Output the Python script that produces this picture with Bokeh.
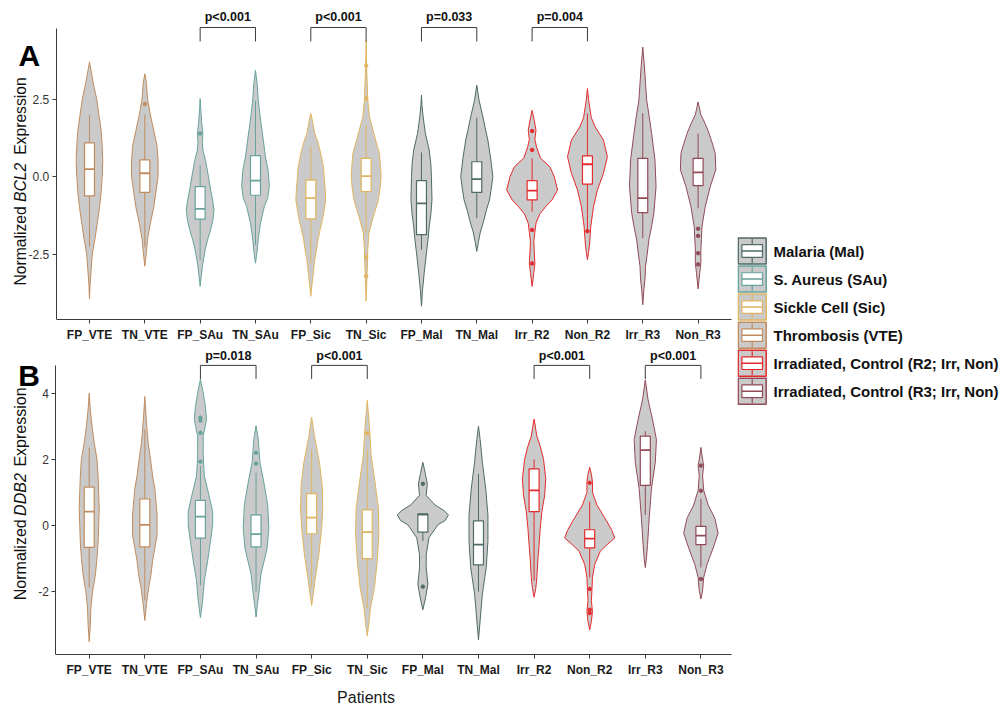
import math
from bokeh.plotting import figure
from bokeh.models import Range1d, FixedTicker, PrintfTickFormatter, LinearAxis
from bokeh.layouts import row, column
from bokeh.embed import file_html
from bokeh.resources import INLINE
from bokeh.core.properties import value

# ---------------- data ----------------
CATEGORIES = ["FP_VTE", "TN_VTE", "FP_SAu", "TN_SAu", "FP_Sic", "TN_Sic",
              "FP_Mal", "TN_Mal", "Irr_R2", "Non_R2", "Irr_R3", "Non_R3"]
GROUP_OF = ["VTE", "VTE", "SAu", "SAu", "Sic", "Sic", "Mal", "Mal", "R2", "R2", "R3", "R3"]
LEGEND_KEYS = ["Mal", "SAu", "Sic", "VTE", "R2", "R3"]
LEGEND_LABELS = ["Malaria (Mal)", "S. Aureus (SAu)", "Sickle Cell (Sic)", "Thrombosis (VTE)",
                 "Irradiated, Control (R2; Irr, Non)", "Irradiated, Control (R3; Irr, Non)"]
COLORS = {"Mal": "#4F6B67", "SAu": "#67A29D", "Sic": "#E0B560",
          "VTE": "#C08C5E", "R2": "#E42A2D", "R3": "#924A58"}

# violin profiles: (expression value, half width in category units), top -> bottom
# Panel A (BCL2)
A_FP_VTE = [(3.70, 0), (3.40, 0.03), (3.00, 0.07), (2.50, 0.13), (2.00, 0.17), (1.50, 0.21), (1.00, 0.23),
            (0.50, 0.24), (0.00, 0.23), (-0.50, 0.21), (-1.00, 0.18), (-1.50, 0.14), (-2.00, 0.10),
            (-2.50, 0.05), (-3.00, 0.03), (-3.50, 0.01), (-3.94, 0)]
A_TN_VTE = [(3.32, 0), (3.00, 0.03), (2.50, 0.05), (2.00, 0.10), (1.50, 0.16), (1.00, 0.22), (0.50, 0.24),
            (0.00, 0.24), (-0.50, 0.20), (-1.00, 0.16), (-1.50, 0.10), (-2.00, 0.05), (-2.40, 0.03), (-2.89, 0)]
A_FP_SAu = [(2.52, 0), (2.20, 0.01), (1.70, 0.03), (1.40, 0.05), (1.10, 0.04), (0.86, 0.05), (0.50, 0.10),
            (0.30, 0.12), (0.00, 0.15), (-0.43, 0.19), (-0.80, 0.23), (-1.07, 0.25), (-1.40, 0.23),
            (-1.71, 0.19), (-2.00, 0.14), (-2.36, 0.09), (-2.90, 0.04), (-3.20, 0.02), (-3.54, 0)]
A_TN_SAu = [(3.43, 0), (3.00, 0.03), (2.47, 0.05), (2.00, 0.08), (1.72, 0.10), (1.20, 0.14), (0.64, 0.18),
            (0.20, 0.23), (-0.32, 0.25), (-0.70, 0.22), (-0.96, 0.16), (-1.50, 0.09), (-2.00, 0.05),
            (-2.40, 0.03), (-2.79, 0)]
A_FP_Sic = [(2.04, 0), (1.80, 0.03), (1.40, 0.07), (1.10, 0.13), (0.75, 0.18), (0.30, 0.23), (0.00, 0.24),
            (-0.40, 0.26), (-0.75, 0.27), (-1.10, 0.24), (-1.39, 0.21), (-1.70, 0.17), (-2.03, 0.13),
            (-2.40, 0.10), (-2.68, 0.07), (-3.20, 0.04), (-3.50, 0.02), (-3.86, 0)]
A_TN_Sic = [(4.39, 0), (3.50, 0.01), (2.47, 0.03), (1.93, 0.06), (1.60, 0.11), (1.39, 0.14), (1.00, 0.20),
            (0.75, 0.24), (0.30, 0.26), (0.00, 0.27), (-0.40, 0.25), (-0.75, 0.22), (-1.00, 0.18),
            (-1.29, 0.13), (-1.82, 0.05), (-2.36, 0.03), (-3.00, 0.02), (-4.02, 0)]
A_FP_Mal = [(2.63, 0), (2.30, 0.01), (1.93, 0.03), (1.40, 0.07), (0.86, 0.14), (0.40, 0.17), (0.00, 0.18),
            (-0.75, 0.19), (-1.20, 0.17), (-1.61, 0.14), (-2.00, 0.12), (-2.46, 0.09), (-3.10, 0.05),
            (-3.64, 0.02), (-4.18, 0)]
A_TN_Mal = [(2.95, 0), (2.47, 0.04), (1.93, 0.11), (1.50, 0.16), (1.18, 0.20), (0.60, 0.25), (0.00, 0.29),
            (-0.40, 0.26), (-0.75, 0.23), (-1.10, 0.17), (-1.39, 0.13), (-1.82, 0.06), (-2.10, 0.03), (-2.41, 0)]
A_Irr_R2 = [(2.14, 0), (1.80, 0.04), (1.50, 0.07), (1.20, 0.05), (0.96, 0.08), (0.60, 0.15), (0.32, 0.32),
            (0.00, 0.40), (-0.43, 0.46), (-0.75, 0.36), (-0.96, 0.25), (-1.20, 0.14), (-1.50, 0.07),
            (-1.80, 0.05), (-2.10, 0.03), (-2.45, 0.04), (-2.80, 0.05), (-3.10, 0.03), (-3.54, 0)]
A_Non_R2 = [(2.84, 0), (2.50, 0.02), (2.25, 0.04), (1.90, 0.07), (1.60, 0.14), (1.18, 0.29), (0.64, 0.36),
            (0.11, 0.29), (-0.43, 0.18), (-0.96, 0.11), (-1.61, 0.06), (-2.14, 0.04), (-2.45, 0.02), (-2.68, 0)]
A_Irr_R3 = [(4.18, 0), (3.54, 0.03), (3.00, 0.05), (2.47, 0.07), (1.90, 0.12), (1.39, 0.16), (0.54, 0.22),
            (-0.32, 0.24), (-1.18, 0.20), (-1.60, 0.16), (-2.04, 0.11), (-2.50, 0.08), (-2.89, 0.05),
            (-3.30, 0.04), (-3.64, 0.02), (-4.13, 0)]
A_Non_R3 = [(2.41, 0), (2.00, 0.05), (1.70, 0.13), (1.39, 0.20), (1.00, 0.27), (0.75, 0.31), (0.22, 0.32),
            (-0.32, 0.22), (-0.96, 0.13), (-1.61, 0.07), (-2.36, 0.05), (-2.80, 0.05), (-3.10, 0.03), (-3.62, 0)]

A_Q1 = [-0.62, -0.51, -1.37, -0.60, -1.36, -0.48, -1.87, -0.51, -0.75, -0.24, -1.16, -0.29]
A_MED = [0.24, 0.11, -1.04, -0.13, -0.69, 0.02, -0.86, -0.08, -0.45, 0.40, -0.69, 0.14]
A_Q3 = [1.09, 0.54, -0.32, 0.68, -0.11, 0.59, -0.13, 0.48, -0.13, 0.67, 0.59, 0.59]
A_WLO = [-2.25, -2.28, -2.70, -2.20, -2.79, -1.82, -2.36, -1.34, -1.13, -1.72, -1.98, -1.02]
A_WHI = [1.98, 2.00, 0.37, 2.45, 0.97, 1.65, 0.78, 1.90, 0.59, 2.04, 2.04, 1.39]
A_OUTLIERS = [[], [2.34], [1.39], [], [], [3.58, 2.52, -2.60, -3.21], [], [],
              [1.47, 0.86, -1.72, -2.80], [-1.76], [], [-1.68, -1.91, -2.47, -2.83]]
A_PAIRS = [(3, 4), (5, 6), (7, 8), (9, 10)]
A_PVALS = ["p<0.001", "p<0.001", "p=0.033", "p=0.004"]

# Panel B (DDB2)
B_FP_VTE = [(4.00, 0), (3.50, 0.02), (3.00, 0.05), (2.50, 0.09), (2.00, 0.14), (1.50, 0.16), (1.00, 0.17),
            (0.50, 0.18), (0.00, 0.17), (-0.50, 0.16), (-1.00, 0.14), (-1.50, 0.11), (-2.00, 0.06),
            (-2.50, 0.03), (-3.00, 0.02), (-3.51, 0)]
B_TN_VTE = [(3.90, 0), (3.10, 0.03), (2.50, 0.06), (1.91, 0.11), (1.50, 0.14), (1.11, 0.18), (0.32, 0.22),
            (-0.30, 0.22), (-1.07, 0.14), (-1.50, 0.11), (-1.87, 0.07), (-2.37, 0.03), (-2.87, 0)]
B_FP_SAu = [(4.42, 0), (4.10, 0.04), (3.60, 0.09), (3.20, 0.11), (2.70, 0.05), (2.11, 0.05), (1.50, 0.07),
            (1.01, 0.14), (0.42, 0.22), (0.02, 0.22), (-0.48, 0.18), (-1.07, 0.13), (-1.67, 0.07),
            (-2.27, 0.04), (-2.79, 0)]
B_TN_SAu = [(3.02, 0), (2.60, 0.04), (1.91, 0.07), (1.31, 0.14), (0.62, 0.21), (-0.08, 0.23), (-0.68, 0.20),
            (-1.47, 0.09), (-2.07, 0.05), (-2.47, 0.02), (-2.77, 0)]
B_FP_Sic = [(3.28, 0), (2.70, 0.05), (1.91, 0.14), (1.21, 0.19), (0.52, 0.20), (-0.08, 0.18), (-0.88, 0.13),
            (-1.67, 0.06), (-2.07, 0.03), (-2.42, 0)]
B_TN_Sic = [(3.78, 0), (3.00, 0.04), (2.11, 0.07), (1.31, 0.14), (0.52, 0.20), (-0.28, 0.21), (-1.07, 0.18),
            (-1.87, 0.13), (-2.47, 0.06), (-2.97, 0.03), (-3.34, 0)]
B_FP_Mal = [(1.91, 0), (1.60, 0.04), (1.26, 0.08), (0.91, 0.06), (0.62, 0.22), (0.45, 0.38), (0.32, 0.46),
            (0.15, 0.40), (0.02, 0.27), (-0.37, 0.11), (-0.88, 0.06), (-1.27, 0.06), (-1.77, 0.09),
            (-2.17, 0.05), (-2.55, 0)]
B_TN_Mal = [(3.00, 0), (2.60, 0.03), (1.91, 0.07), (1.11, 0.13), (0.32, 0.17), (-0.48, 0.17), (-1.27, 0.14),
            (-2.07, 0.07), (-2.67, 0.04), (-3.07, 0.02), (-3.46, 0)]
B_Irr_R2 = [(3.22, 0), (2.70, 0.05), (2.40, 0.11), (2.00, 0.17), (1.41, 0.21), (0.91, 0.19), (0.42, 0.14),
            (-0.10, 0.11), (-0.58, 0.09), (-1.00, 0.07), (-1.57, 0.05), (-1.90, 0.03), (-2.17, 0)]
B_Non_R2 = [(1.76, 0), (1.55, 0.03), (1.32, 0.05), (1.00, 0.05), (0.62, 0.13), (0.12, 0.31), (-0.15, 0.40),
            (-0.38, 0.45), (-0.60, 0.30), (-0.78, 0.19), (-1.18, 0.09), (-1.57, 0.05), (-1.97, 0.04),
            (-2.27, 0.03), (-2.60, 0.05), (-2.90, 0.03), (-3.16, 0)]
B_Irr_R3 = [(4.40, 0), (3.80, 0.05), (3.20, 0.13), (2.60, 0.20), (1.91, 0.18), (1.11, 0.11), (0.22, 0.07),
            (-0.58, 0.04), (-1.00, 0.02), (-1.27, 0)]
B_Non_R3 = [(2.36, 0), (2.10, 0.02), (1.81, 0.05), (1.50, 0.03), (1.06, 0.05), (0.62, 0.13), (0.22, 0.25),
            (-0.23, 0.31), (-0.68, 0.22), (-1.18, 0.11), (-1.57, 0.05), (-1.97, 0.03), (-2.22, 0)]

B_Q1 = [-0.66, -0.65, -0.38, -0.65, -0.25, -1.00, -0.20, -1.19, 0.42, -0.68, 1.21, -0.58]
B_MED = [0.42, 0.02, 0.27, -0.26, 0.24, -0.20, 0.33, -0.58, 1.06, -0.40, 2.28, -0.31]
B_Q3 = [1.16, 0.80, 0.76, 0.32, 0.96, 0.47, 0.35, 0.14, 1.71, -0.13, 2.70, -0.03]
B_WLO = [-1.87, -2.27, -1.82, -2.00, -1.87, -2.50, -0.47, -2.00, -1.67, -1.57, 0.32, -1.27]
B_WHI = [2.36, 2.90, 1.80, 1.60, 2.30, 2.30, 0.35, 1.56, 2.00, 0.72, 2.85, 0.81]
B_OUTLIERS = [[], [], [3.26, 3.17, 2.80, 1.93], [2.20, 1.87], [], [2.79], [1.26, -1.85], [],
              [], [1.29, -1.92, -2.55, -2.65], [], [1.81, 1.05, -1.62]]
B_PAIRS = [(3, 4), (5, 6), (9, 10), (11, 12)]
B_PVALS = ["p=0.018", "p<0.001", "p<0.001", "p<0.001"]

A_VIOLINS = [A_FP_VTE, A_TN_VTE, A_FP_SAu, A_TN_SAu, A_FP_Sic, A_TN_Sic,
             A_FP_Mal, A_TN_Mal, A_Irr_R2, A_Non_R2, A_Irr_R3, A_Non_R3]
B_VIOLINS = [B_FP_VTE, B_TN_VTE, B_FP_SAu, B_TN_SAu, B_FP_Sic, B_TN_Sic,
             B_FP_Mal, B_TN_Mal, B_Irr_R2, B_Non_R2, B_Irr_R3, B_Non_R3]

# ---------------- style / layout (pixels) ----------------
FONT = "Liberation Sans"
GREY_FILL = "#CACACA"
AXIS_COLOR = "#3A3A3A"
BOX_W = 0.18
X0 = 0.4                 # left end of the category axis (data)
AXIS_LEFT_PX = 55.8      # page x of the y axis line
COL_W = 737              # width of the panel column


class Geo:
    def __init__(self, ppx, right_px, top_px, frame_h, zero_px, ppy):
        self.ppx, self.ppy = ppx, ppy
        self.top_px, self.frame_h = top_px, frame_h
        self.x_start = X0 - AXIS_LEFT_PX / ppx
        self.x_end = X0 + (right_px - AXIS_LEFT_PX) / ppx
        self.y_end = (zero_px - top_px) / ppy
        self.y_start = self.y_end - frame_h / ppy
        self.right_px = right_px

    def x(self, page_x):
        return X0 + (page_x - AXIS_LEFT_PX) / self.ppx

    def y(self, page_y):
        return self.y_end - (page_y - self.top_px) / self.ppy


GA = Geo(ppx=675 / 12.2, right_px=731, top_px=0, frame_h=320, zero_px=176.7, ppy=31.1)
GB = Geo(ppx=684 / 12.2, right_px=737, top_px=344, frame_h=314, zero_px=527.3, ppy=33.5)


def make_panel(g, fig_h, bottom, violins, q1, med, q3, wlo, whi, outl, pairs, pvals,
               br_top, br_end, p_y, y_ticks, y_fmt, y_axis_top, xlabel=None):
    p = figure(width=COL_W, height=fig_h, output_backend="svg", toolbar_location=None,
               x_range=Range1d(g.x_start, g.x_end), y_range=Range1d(g.y_start, g.y_end),
               x_axis_type=None, y_axis_type=None,
               min_border_left=0, min_border_right=COL_W - int(round(g.right_px)),
               min_border_top=0, min_border_bottom=bottom)
    p.outline_line_color = None
    p.background_fill_color = "white"
    p.border_fill_color = "white"

    xaxis = LinearAxis(ticker=FixedTicker(ticks=list(range(1, len(CATEGORIES) + 1))),
                       major_label_overrides={i + 1: c for i, c in enumerate(CATEGORIES)},
                       bounds=(X0, g.x_end))
    xaxis.axis_line_color = AXIS_COLOR
    xaxis.major_tick_line_color = AXIS_COLOR
    xaxis.major_tick_out = 4
    xaxis.major_tick_in = 0
    xaxis.minor_tick_line_color = None
    xaxis.major_label_standoff = 4
    xaxis.major_label_text_font = FONT
    xaxis.major_label_text_font_style = "bold"
    xaxis.major_label_text_font_size = "12px"
    xaxis.major_label_text_color = "#1A1A1A"
    if xlabel:
        xaxis.axis_label = xlabel
        xaxis.axis_label_text_font = FONT
        xaxis.axis_label_text_font_style = "normal"
        xaxis.axis_label_text_font_size = "16px"
        xaxis.axis_label_text_color = "#1A1A1A"
        xaxis.axis_label_standoff = 9
    p.add_layout(xaxis, "below")

    yaxis = LinearAxis(ticker=FixedTicker(ticks=y_ticks), formatter=PrintfTickFormatter(format=y_fmt),
                       bounds=(g.y_start, y_axis_top), fixed_location=X0)
    yaxis.axis_line_color = AXIS_COLOR
    yaxis.major_tick_line_color = AXIS_COLOR
    yaxis.major_tick_out = 4
    yaxis.major_tick_in = 0
    yaxis.minor_tick_line_color = None
    yaxis.major_label_standoff = 3
    yaxis.major_label_text_font = FONT
    yaxis.major_label_text_font_size = "12px"
    yaxis.major_label_text_color = "#333333"
    p.add_layout(yaxis, "left")

    centers = [i + 1 for i in range(len(violins))]
    cols = [COLORS[gp] for gp in GROUP_OF]

    xs, ys = [], []
    for c, prof in zip(centers, violins):
        vals = [pt[0] for pt in prof]
        ws = [pt[1] for pt in prof]
        xs.append([c + w for w in ws] + [c - w for w in reversed(ws)])
        ys.append(vals + vals[::-1])
    p.patches(xs, ys, fill_color=GREY_FILL, line_color=cols, line_width=1.0)

    p.segment(x0=centers, y0=q3, x1=centers, y1=whi, line_color=cols, line_width=1.0)
    p.segment(x0=centers, y0=q1, x1=centers, y1=wlo, line_color=cols, line_width=1.0)
    p.quad(left=[c - BOX_W / 2 for c in centers], right=[c + BOX_W / 2 for c in centers],
           bottom=q1, top=q3, fill_color="white", line_color=cols, line_width=1.2)
    p.segment(x0=[c - BOX_W / 2 for c in centers], x1=[c + BOX_W / 2 for c in centers],
              y0=med, y1=med, line_color=cols, line_width=1.8)
    ox, oy, oc = [], [], []
    for c, lst, col in zip(centers, outl, cols):
        for v in lst:
            ox.append(c)
            oy.append(v)
            oc.append(col)
    p.scatter(ox, oy, size=3.5, color=oc)

    bxs = [[a, a, b, b] for a, b in pairs]
    bys = [[br_end, br_top, br_top, br_end] for _ in pairs]
    p.multi_line(bxs, bys, line_color="#3A3A3A", line_width=1.0)
    p.text(x=[(a + b) / 2 for a, b in pairs], y=[p_y] * len(pairs), text=pvals,
           text_font=value(FONT), text_font_style="bold", text_font_size="12.5px",
           text_align="center", text_baseline="middle", text_color="#111111")
    return p


def add_titles(p, g, letter, letter_base_px, gene, font_px, bottom_px, gene_center_px, top_px):
    p.text(x=[g.x(18)], y=[g.y(letter_base_px)], text=[letter], text_font=value(FONT),
           text_font_style="bold", text_font_size="30px", text_color="black",
           text_align="left", text_baseline="alphabetic")
    tx = g.x(20)
    common = dict(angle=math.pi / 2, text_font=value(FONT), text_font_size=f"{font_px}px",
                  text_color="#111111", text_baseline="middle")
    p.text(x=[tx], y=[g.y(bottom_px)], text=["Normalized"], text_align="left", **common)
    p.text(x=[tx], y=[g.y(gene_center_px)], text=[gene], text_align="center",
           text_font_style="italic", **common)
    p.text(x=[tx], y=[g.y(top_px)], text=["Expression"], text_align="right", **common)


pA = make_panel(GA, 344, 24, A_VIOLINS, A_Q1, A_MED, A_Q3, A_WLO, A_WHI, A_OUTLIERS, A_PAIRS, A_PVALS,
                br_top=4.81, br_end=4.36, p_y=5.14, y_ticks=[-2.5, 0, 2.5], y_fmt="%.1f", y_axis_top=4.78)
pB = make_panel(GB, 364, 50, B_VIOLINS, B_Q1, B_MED, B_Q3, B_WLO, B_WHI, B_OUTLIERS, B_PAIRS, B_PVALS,
                br_top=4.84, br_end=4.43, p_y=5.12, y_ticks=[-2, 0, 2, 4], y_fmt="%d", y_axis_top=4.84,
                xlabel="Patients")
add_titles(pA, GA, "A", 55, "BCL2", 15.7, 286, 182.5, 77)
add_titles(pB, GB, "B", 375, "DDB2", 16, 603, 496, 387.5)

# ---------------- legend ----------------
LEG_W, LEG_H = 268, 708
leg = figure(width=LEG_W, height=LEG_H, output_backend="svg", toolbar_location=None,
             x_range=Range1d(0, LEG_W), y_range=Range1d(LEG_H, 0),
             x_axis_type=None, y_axis_type=None, min_border=0)
leg.outline_line_color = None
leg.background_fill_color = "white"
leg.border_fill_color = "white"
KEY_X, KEY_W, KEY_H = 14.7, 28, 26
ky = [250.5 + 28.05 * i for i in range(len(LEGEND_KEYS))]
kc = [COLORS[k] for k in LEGEND_KEYS]
leg.rect(x=KEY_X, y=ky, width=KEY_W, height=KEY_H, fill_color=GREY_FILL, line_color=kc, line_width=1.5)
leg.segment(x0=KEY_X, x1=KEY_X, y0=[y - KEY_H / 2 + 1 for y in ky], y1=[y + KEY_H / 2 - 1 for y in ky],
            line_color=kc, line_width=1.2)
leg.rect(x=KEY_X, y=ky, width=20.6, height=12.6, fill_color="white", line_color=kc, line_width=1.2)
leg.segment(x0=KEY_X - 10.3, x1=KEY_X + 10.3, y0=ky, y1=ky, line_color=kc, line_width=1.5)
leg.text(x=[36] * len(ky), y=ky, text=LEGEND_LABELS, text_font=value(FONT), text_font_style="bold",
         text_font_size="15px", text_align="left", text_baseline="middle", text_color="#111111")

layout = row(column(pA, pB), leg)
open("out.html", "w").write(file_html(layout, INLINE))
